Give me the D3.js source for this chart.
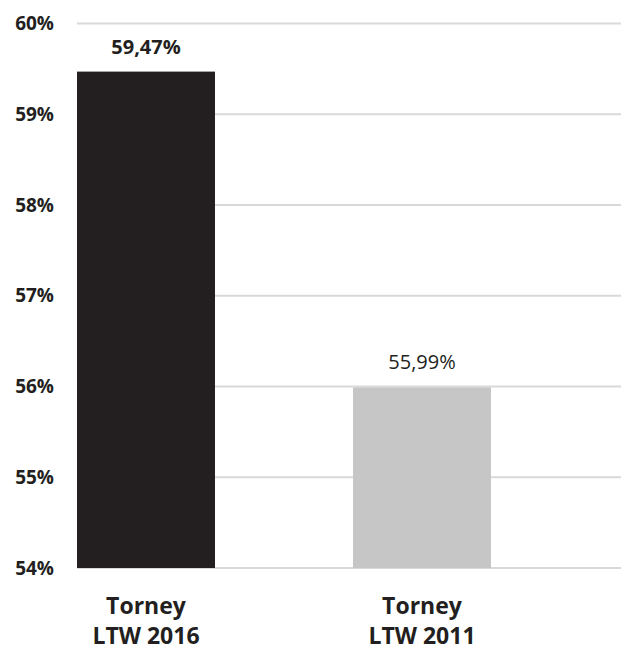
<!DOCTYPE html>
<html><head><meta charset="utf-8">
<script src="https://cdn.jsdelivr.net/npm/d3@7"></script>
<style>body{margin:0;background:#fff;}svg{display:block;}</style>
</head><body>
<script>
const categories = [["Torney","LTW 2016"],["Torney","LTW 2011"]];
const values = [59.47, 55.99];
const valueLabels = ["59,47%","55,99%"];
const yTicks = [54,55,56,57,58,59,60];
const barColors = ["#231f20","#c6c6c6"];

const W=623,H=650;
const svg=d3.select("body").append("svg").attr("width",W).attr("height",H);
const x=d3.scaleBand().domain(d3.range(categories.length)).range([77,491]).paddingInner(0.5).paddingOuter(0);
const y=d3.scaleLinear().domain([54,60]).range([568,23.5]);
const font="'Open Sans', sans-serif";
const bw=x.bandwidth();

svg.append("g").selectAll("line").data(yTicks).join("line")
 .attr("x1",77).attr("x2",621).attr("y1",d=>y(d)).attr("y2",d=>y(d))
 .attr("stroke","#d9d9d9").attr("stroke-width",2);

svg.append("g").selectAll("text").data(yTicks).join("text")
 .attr("x",54).attr("y",d=>y(d)).attr("dy","0.35em").attr("text-anchor","end")
 .attr("font-family",font).attr("font-weight","bold").attr("font-size",19).attr("fill","#231f20")
 .text(d=>d+"%");

svg.append("g").selectAll("rect").data(values).join("rect")
 .attr("x",(d,i)=>x(i)).attr("width",bw)
 .attr("y",d=>y(d)).attr("height",d=>y(54)-y(d))
 .attr("fill",(d,i)=>barColors[i]);

svg.append("g").selectAll("text").data(values).join("text")
 .attr("x",(d,i)=>x(i)+bw/2).attr("y",d=>y(d)-18).attr("text-anchor","middle")
 .attr("font-family",font).attr("font-weight",(d,i)=>i===0?"bold":"normal").attr("font-size",20).attr("fill","#231f20")
 .text((d,i)=>valueLabels[i]);

const cl=svg.append("g").selectAll("text").data(categories).join("text")
 .attr("text-anchor","middle").attr("font-family",font).attr("font-weight","bold").attr("font-size",23).attr("fill","#231f20");
cl.each(function(d,i){
  const t=d3.select(this);
  d.forEach((s,j)=>t.append("tspan").attr("x",x(i)+bw/2).attr("y",614+j*30).text(s));
});
</script>
</body></html>
